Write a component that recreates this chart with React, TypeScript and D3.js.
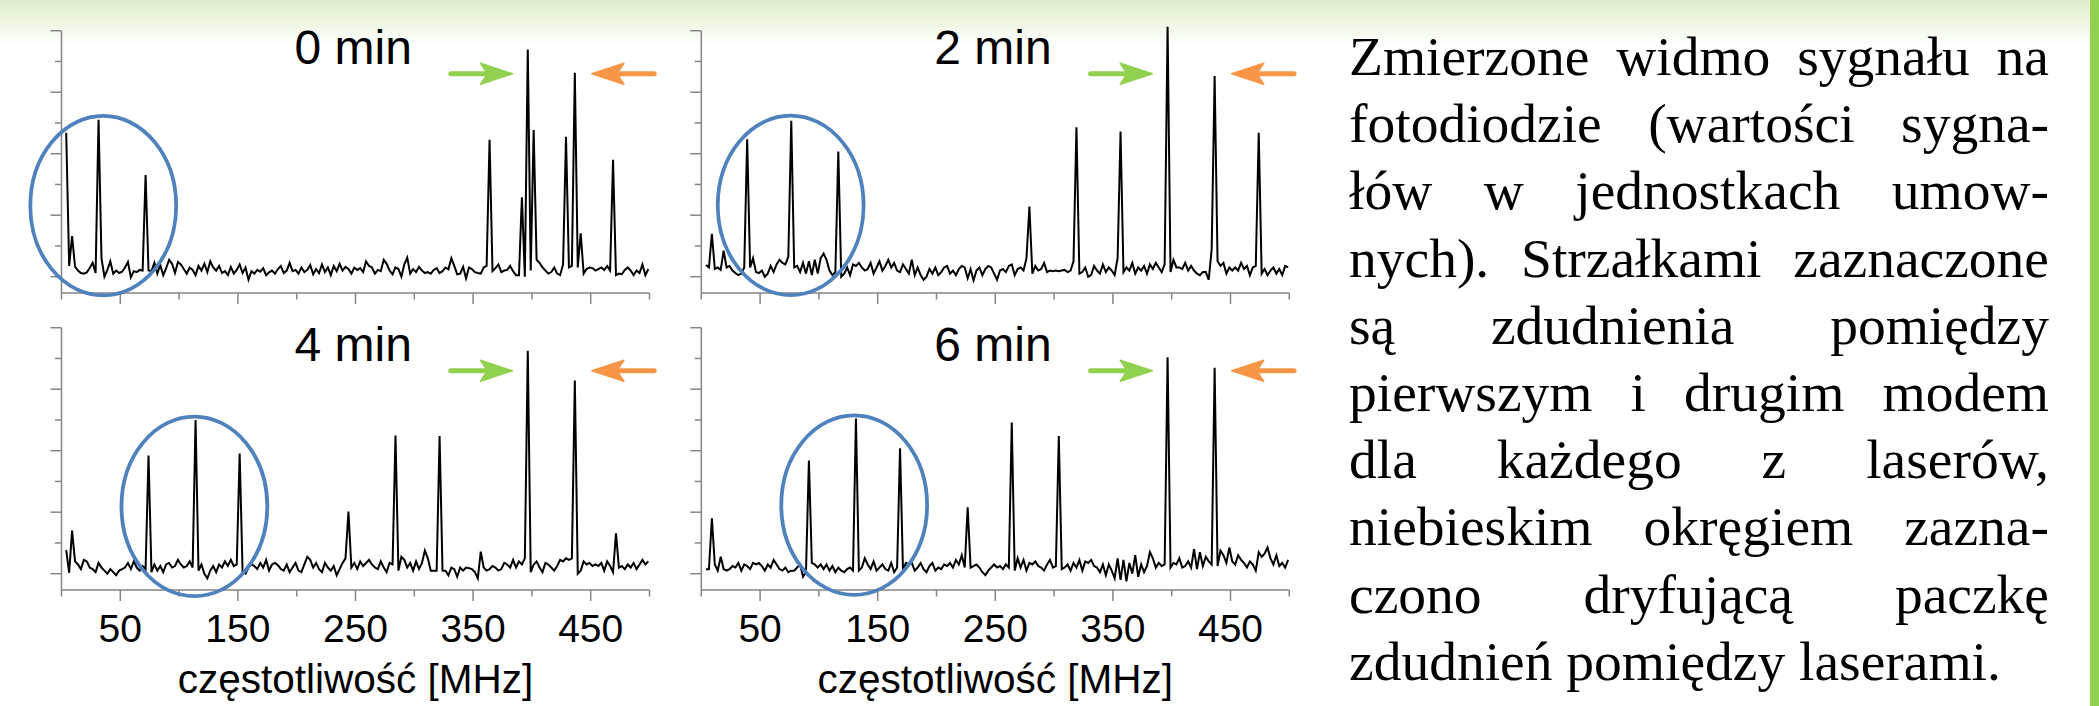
import * as d3 from 'd3'

const W = 2099
const H = 706

// sampling grid of the measured spectra [MHz]
const FREQ_START = 4
const FREQ_STEP = 2.5
const FREQ_END = 499

const titles = ['0 min', '2 min', '4 min', '6 min']
const xTickValues = [0, 50, 100, 150, 200, 250, 300, 350, 400, 450, 500]
const xLabelValues = [50, 150, 250, 350, 450]
const yTickValues = [0, 1, 2, 3, 4, 5, 6, 7, 8]
const xAxisTitle = 'częstotliwość [MHz]'

// signal, arbitrary units
const spectrum0 = [
  4.68, 0.35, 1.32, 0.33, 0.2, 0.12, 0.1, 0.14, 0.28, 0.45, 0.12, 5.1, 0.6, 0.0, 0.22, 0.5, 0.1, 0.2, 0.12, 0.16,
  0.3, 0.48, -0.02, 0.18, 0.15, 0.22, 0.2, 3.31, 0.2, 0.18, 0.45, 0.1, 0.38, 0.05, 0.28, 0.55, 0.42, 0.12, 0.48, 0.4,
  0.25, 0.1, 0.3, 0.22, 0.05, 0.35, 0.2, 0.42, 0.15, 0.5, 0.3, 0.2, 0.35, 0.12, 0.18, 0.05, 0.32, 0.1, 0.22, 0.4,
  0.12, 0.3, -0.1, 0.18, 0.1, 0.22, 0.16, 0.28, 0.05, 0.14, 0.2, 0.1, 0.25, 0.35, 0.12, 0.2, 0.45, 0.18, 0.22, 0.1,
  0.3, 0.15, 0.22, 0.38, 0.08, 0.25, 0.12, 0.4, 0.15, 0.3, 0.05, 0.35, 0.18, 0.42, 0.2, 0.32, 0.25, 0.1, 0.3, 0.22,
  0.28, 0.15, 0.5, 0.35, 0.3, 0.1, 0.22, 0.18, 0.55, 0.42, 0.2, 0.08, 0.3, 0.25, 0.0, 0.4, 0.62, 0.1, 0.25, 0.15,
  0.32, 0.2, 0.12, 0.15, 0.1, 0.22, 0.28, 0.12, 0.18, 0.3, 0.24, 0.6, 0.35, 0.08, 0.1, 0.32, -0.05, 0.3, 0.25, 0.15,
  0.12, 0.1, 0.3, 0.35, 4.45, 0.18, 0.28, 0.4, 0.15, 0.2, 0.22, 0.35, 0.18, 0.05, 0.05, 2.58, 0.0, 7.39, 0.2, 4.77,
  0.55, 0.45, 0.3, 0.2, 0.1, 0.15, 0.3, 0.1, 0.05, 0.4, 4.55, 0.3, 0.35, 6.63, 0.3, 1.41, 0.1, 0.25, 0.3, 0.28,
  0.2, 0.25, 0.3, 0.22, 0.35, 0.2, 3.8, 0.05, 0.1, 0.08, 0.22, 0.3, 0.2, 0.05, 0.2, 0.12, 0.4, 0.05, 0.25,
]
const spectrum2 = [
  0.38, 0.3, 1.39, 0.25, 0.3, 0.22, 0.85, 0.3, 0.35, 0.2, 0.12, 0.05, 0.1, 0.3, 4.47, 0.3, 0.6, 0.15, 0.12, 0.2,
  0.0, 0.1, 0.35, 0.15, 0.4, 0.55, 0.45, 0.4, 0.65, 5.07, 0.3, 0.35, 0.15, 0.45, 0.1, 0.5, 0.05, 0.55, 0.1, 0.6,
  0.75, 0.55, 0.2, 0.05, 0.15, 4.07, 0.0, 0.1, 0.3, 0.05, 0.4, 0.35, 0.45, 0.3, 0.2, 0.25, 0.45, 0.1, 0.3, 0.5,
  0.2, 0.35, 0.55, 0.3, 0.45, 0.2, 0.15, 0.4, 0.25, 0.1, 0.55, 0.05, 0.3, 0.05, -0.1, 0.0, 0.25, 0.1, 0.3, 0.05,
  0.15, 0.3, 0.35, 0.1, 0.2, 0.05, 0.25, 0.35, 0.3, -0.05, 0.25, -0.12, 0.2, 0.3, 0.05, 0.25, 0.35, 0.3, 0.1, -0.1,
  0.2, 0.25, 0.15, 0.35, 0.4, 0.05, 0.25, 0.3, 0.2, 0.6, 2.28, 0.1, 0.35, 0.2, 0.25, 0.45, 0.15, 0.2, 0.18, 0.2,
  0.18, 0.2, 0.22, 0.15, 0.2, 0.5, 4.86, 0.1, 0.15, 0.3, 0.0, 0.05, 0.35, 0.2, 0.1, 0.4, 0.15, 0.3, 0.2, 0.05,
  0.6, 4.72, 0.15, 0.3, 0.2, 0.45, 0.1, 0.3, 0.2, 0.35, 0.1, 0.4, 0.25, 0.45, 0.3, 0.15, 0.4, 8.13, 0.15, 0.55,
  0.3, 0.3, 0.25, 0.45, 0.2, 0.35, 0.2, 0.1, 0.05, 0.15, 0.15, -0.1, 0.9, 6.53, 0.5, 0.35, 0.45, 0.1, 0.3, 0.2,
  0.3, 0.2, 0.45, 0.25, 0.35, 0.05, 0.3, 0.35, 4.68, 0.1, 0.25, 0.05, 0.2, 0.3, 0.1, 0.25, 0.05, 0.35, 0.3,
]
const spectrum4 = [
  0.77, 0.03, 1.4, 0.4, 0.3, 0.15, 0.45, 0.4, 0.2, 0.15, 0.05, 0.35, 0.2, 0.1, 0.0, 0.15, 0.05, -0.05, 0.1, 0.15,
  0.2, 0.35, 0.15, 0.4, 0.2, 0.1, 0.25, 0.15, 3.84, 0.05, 0.3, 0.1, 0.25, 0.05, 0.3, 0.35, 0.2, 0.25, 0.45, 0.3,
  0.2, 0.25, 0.4, 0.2, 5.0, 0.1, 0.3, 0.0, -0.15, 0.1, 0.25, 0.05, 0.3, 0.2, 0.4, 0.25, 0.45, 0.25, 0.3, 3.91,
  0.05, 0.0, 0.2, 0.3, 0.25, 0.15, 0.35, 0.2, 0.45, 0.1, 0.3, 0.35, 0.28, 0.15, 0.1, 0.3, 0.05, 0.2, 0.35, 0.1,
  0.05, 0.3, 0.55, 0.45, 0.2, 0.35, 0.15, 0.05, 0.35, 0.2, 0.1, 0.25, -0.05, 0.15, 0.35, 0.5, 2.02, 0.2, 0.35, 0.15,
  0.4, 0.25, 0.35, 0.45, 0.3, 0.2, 0.15, 0.4, 0.2, 0.05, 0.35, 0.3, 4.49, 0.1, 0.55, 0.45, 0.2, 0.35, 0.1, 0.4,
  0.15, 0.35, 0.75, 0.5, 0.1, 0.1, 0.1, 4.48, 0.1, 0.1, -0.05, 0.2, 0.15, -0.1, 0.2, 0.1, 0.2, 0.18, 0.15, 0.05,
  -0.15, 0.72, 0.2, 0.1, 0.15, 0.25, 0.2, 0.1, 0.15, 0.35, 0.3, 0.2, 0.45, 0.2, 0.4, 0.3, 0.5, 7.25, 0.05, 0.3,
  0.4, 0.2, 0.05, 0.35, 0.3, 0.2, 0.1, 0.25, 0.45, 0.4, 0.5, 0.45, 0.5, 6.28, 0.0, 0.1, 0.4, 0.3, 0.35, 0.25,
  0.3, 0.25, 0.35, 0.1, 0.4, 0.25, 0.05, 1.31, 0.2, 0.25, 0.15, 0.3, 0.2, 0.35, 0.15, 0.3, 0.45, 0.3, 0.4,
]
const spectrum6 = [
  0.14, 0.15, 1.8, 0.3, 0.1, 0.55, 0.15, 0.1, 0.15, 0.25, 0.2, 0.35, 0.1, 0.3, 0.25, 0.15, 0.35, 0.3, 0.35, 0.25,
  0.1, 0.3, 0.2, 0.45, 0.3, 0.15, 0.1, 0.2, 0.05, 0.1, 0.1, 0.2, 0.3, -0.1, 0.05, 3.68, 0.35, 0.3, 0.2, 0.3,
  0.15, 0.3, 0.1, 0.25, 0.05, 0.2, 0.1, 0.05, 0.15, 0.2, 0.1, 5.05, 0.1, 0.2, 0.5, 0.3, 0.15, 0.4, 0.1, 0.2,
  0.3, 0.15, 0.1, 0.35, 0.05, 0.2, 4.08, 0.1, 0.35, 0.3, 0.35, 0.1, 0.2, 0.35, 0.15, 0.05, 0.25, 0.35, 0.1, 0.2,
  0.15, 0.3, 0.25, 0.35, 0.2, 0.45, 0.3, 0.6, 0.2, 2.16, 0.2, 0.25, 0.3, 0.2, 0.05, -0.05, 0.1, 0.2, 0.3, 0.2,
  0.25, 0.15, 0.3, 0.2, 4.92, 0.1, 0.5, 0.2, 0.45, 0.1, 0.35, 0.3, 0.4, 0.25, 0.2, 0.1, 0.3, 0.45, 0.2, 0.25,
  4.48, 0.15, 0.2, 0.3, 0.1, 0.35, 0.2, 0.45, 0.1, 0.4, 0.35, 0.45, 0.25, 0.2, 0.05, 0.3, -0.05, 0.3, 0.1, -0.15,
  0.5, -0.2, 0.45, -0.25, 0.35, 0.0, 0.6, -0.1, 0.3, 0.05, 0.25, 0.7, 0.5, 0.2, 0.35, 0.25, 0.3, 7.04, 0.2, 0.35,
  0.3, 0.5, 0.2, 0.25, 0.4, 0.2, 0.8, 0.15, 0.7, 0.25, 0.55, 0.4, 0.3, 6.7, 0.25, 0.75, 0.6, 0.35, 0.85, 0.4,
  0.3, 0.6, 0.45, 0.35, 0.2, 0.4, 0.3, 0.1, 0.7, 0.55, 0.65, 0.85, 0.5, 0.3, 0.6, 0.25, 0.35, 0.2, 0.45,
]
const spectra = [spectrum0, spectrum2, spectrum4, spectrum6]

// drifting beat-note packet (blue ellipse), centre in MHz / signal units
const packetCentreMHz = [35.5, 76, 113, 130]
const packetCentreLevel = [2.31, 2.32, 2.19, 2.23]
const packetRadiusMHz = 62
const packetRadiusLevel = 2.92

// arrows: [tail, tip] in MHz
const greenArrow = [331, 383.5]
const orangeArrow = [504, 451]
const arrowLevel = 6.6

const captionLines = [
  'Zmierzone widmo sygnału na',
  'fotodiodzie (wartości sygna-',
  'łów w jednostkach umow-',
  'nych). Strzałkami zaznaczone',
  'są zdudnienia pomiędzy',
  'pierwszym i drugim modem',
  'dla każdego z laserów,',
  'niebieskim okręgiem zazna-',
  'czono dryfującą paczkę',
  'zdudnień pomiędzy laserami.',
]

const panelLeft = [61.5, 701.3, 61.5, 701.3]
const panelTop = [30.7, 30.7, 327.7, 327.7]
const PLOT_W = 588
const PLOT_H = 246
const AXIS_DROP = 262.3

const SANS = '"Liberation Sans", Arial, sans-serif'
const SERIF = '"Liberation Serif"'
const AXIS_COLOR = '#858585'

const freqs = d3.range(FREQ_START, FREQ_END + 0.01, FREQ_STEP)

function Arrow({ x, y, from, to, color }: any) {
  const tail = x(from)
  const tip = x(to)
  const dir = tip > tail ? 1 : -1
  const back = tip - dir * 32
  const notch = tip - dir * 25
  return (
    <g>
      <line x1={tail} y1={y} x2={notch} y2={y} stroke={color} strokeWidth={5} strokeLinecap="round" />
      <polygon
        points={`${tip},${y} ${back},${y - 10.5} ${notch},${y} ${back},${y + 10.5}`}
        fill={color}
        stroke={color}
        strokeWidth={1.5}
        strokeLinejoin="round"
      />
    </g>
  )
}

function Panel({ idx }: { idx: number }) {
  const left = panelLeft[idx]
  const top = panelTop[idx]
  const bottomRow = idx >= 2
  const x = d3.scaleLinear().domain([0, 500]).range([left, left + PLOT_W])
  const y = d3.scaleLinear().domain([0, 8]).range([top + PLOT_H, top])
  const axisY = top + AXIS_DROP
  const data = spectra[idx]
  const line = d3.line<number>()
    .x((_, i) => x(freqs[i]))
    .y(d => y(d))

  const cx = x(packetCentreMHz[idx])
  const cy = y(packetCentreLevel[idx])
  const rx = x(packetRadiusMHz) - x(0)
  const ry = y(0) - y(packetRadiusLevel)
  const ay = y(arrowLevel)

  return (
    <g>
      <path d={line(data) || ''} fill="none" stroke="#000" strokeWidth={2} />
      {/* y axis */}
      <line x1={left} y1={y(8)} x2={left} y2={axisY} stroke={AXIS_COLOR} strokeWidth={1.5} />
      {yTickValues.map(t => (
        <line key={t} x1={left - (t % 2 === 0 ? 11 : 6.5)} x2={left} y1={y(t)} y2={y(t)}
          stroke={AXIS_COLOR} strokeWidth={1.5} />
      ))}
      {/* x axis */}
      <line x1={left} y1={axisY} x2={x(500)} y2={axisY} stroke={AXIS_COLOR} strokeWidth={1.5} />
      {xTickValues.map(t => (
        <line key={t} x1={x(t)} x2={x(t)} y1={axisY}
          y2={axisY + (xLabelValues.includes(t) ? 11 : 6.5)} stroke={AXIS_COLOR} strokeWidth={1.5} />
      ))}
      {bottomRow && xLabelValues.map(t => (
        <text key={t} x={x(t)} y={641.5} textAnchor="middle" fontFamily={SANS} fontSize={39} fill="#000">
          {t}
        </text>
      ))}
      {bottomRow && (
        <text x={x(250)} y={693} textAnchor="middle" fontFamily={SANS} fontSize={40.5} fill="#000">
          {xAxisTitle}
        </text>
      )}
      <text x={left + 233} y={top + 33.5} fontFamily={SANS} fontSize={48} fill="#000">
        {titles[idx]}
      </text>
      <ellipse cx={cx} cy={cy} rx={rx} ry={ry} fill="none" stroke="#4f81bd" strokeWidth={3.8} />
      <Arrow x={x} y={ay} from={greenArrow[0]} to={greenArrow[1]} color="#92d050" />
      <Arrow x={x} y={ay} from={orangeArrow[0]} to={orangeArrow[1]} color="#f79646" />
    </g>
  )
}

function Caption() {
  const fontSize = 55.5
  const left = 1349
  const right = 2049
  const firstBaseline = 75
  const lineGap = 67.2
  const ctx = document.createElement('canvas').getContext('2d')
  if (ctx) ctx.font = `${fontSize}px ${SERIF}`
  const measure = (s: string) => (ctx ? ctx.measureText(s).width : s.length * fontSize * 0.45)
  const style = { fontFamily: SERIF, fontSize: `${fontSize}px` }

  return (
    <g fill="#000">
      {captionLines.map((ln, i) => {
        const yy = firstBaseline + i * lineGap
        if (i === captionLines.length - 1) {
          return <text key={i} x={left} y={yy} style={style}>{ln}</text>
        }
        const words = ln.split(' ')
        const widths = words.map(measure)
        const total = d3.sum(widths)
        const gap = (right - left - total) / (words.length - 1)
        let pos = left
        return (
          <g key={i}>
            {words.map((w, j) => {
              const el = <text key={j} x={pos} y={yy} style={style}>{w}</text>
              pos += widths[j] + gap
              return el
            })}
          </g>
        )
      })}
    </g>
  )
}

export default function App() {
  return (
    <svg width={W} height={H} style={{ position: 'absolute', left: 0, top: 0, background: '#fff' }}>
      <defs>
        <linearGradient id="topGlow" x1="0" y1="0" x2="0" y2="1">
          <stop offset="0%" stopColor="#e0eec9" />
          <stop offset="100%" stopColor="#ffffff" />
        </linearGradient>
      </defs>
      <rect x={0} y={0} width={W} height={H} fill="#fff" />
      <rect x={0} y={0} width={W} height={46} fill="url(#topGlow)" />
      <rect x={2090} y={0} width={9} height={H} fill="#92d050" />
      {[0, 1, 2, 3].map(i => <Panel key={i} idx={i} />)}
      <Caption />
    </svg>
  )
}
